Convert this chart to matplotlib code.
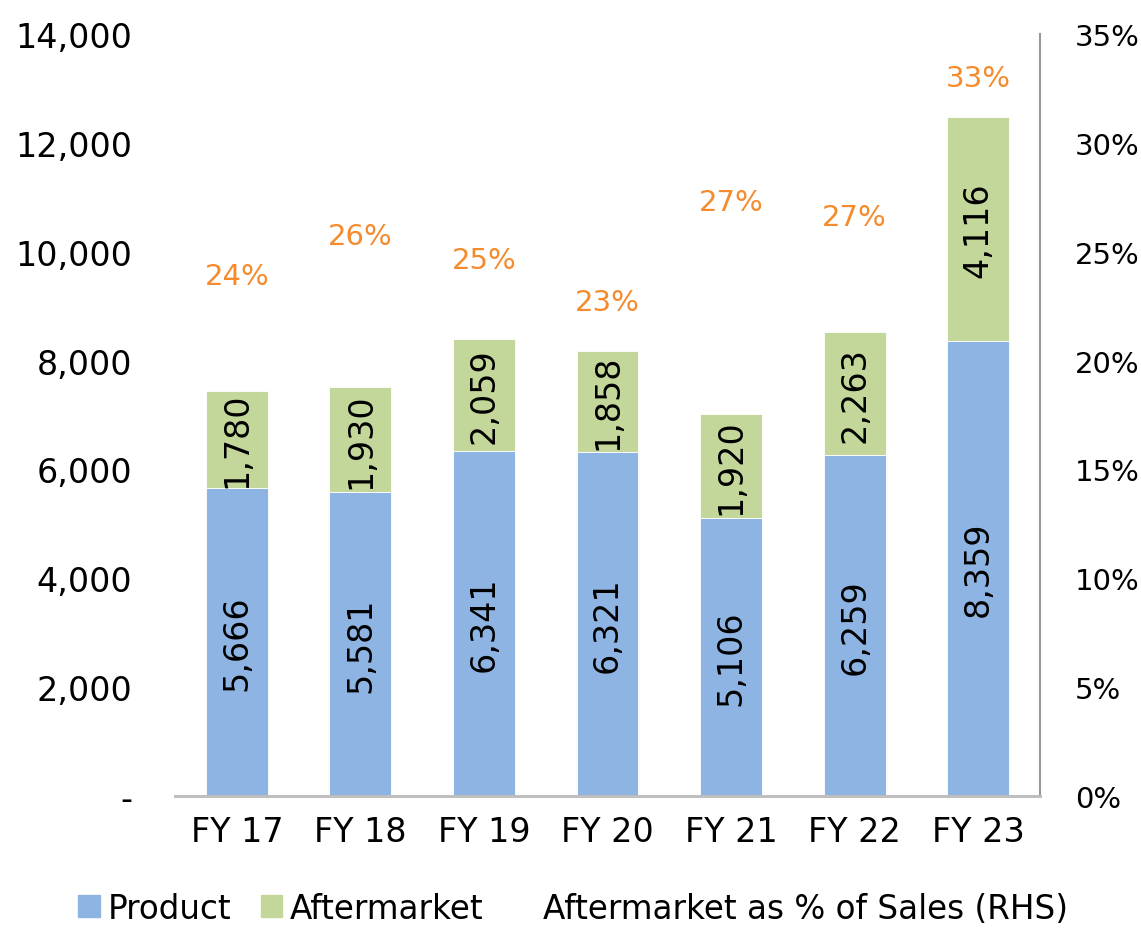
import matplotlib.pyplot as plt
from matplotlib.patches import Patch
from matplotlib.lines import Line2D
from matplotlib.ticker import FuncFormatter

# data
years = ['FY 17', 'FY 18', 'FY 19', 'FY 20', 'FY 21', 'FY 22', 'FY 23']
product = [5666, 5581, 6341, 6321, 5106, 6259, 8359]
aftermarket = [1780, 1930, 2059, 1858, 1920, 2263, 4116]
pct_sales = [23.9, 25.7, 24.6, 22.7, 27.3, 26.6, 33.0]

blue = '#8EB4E3'
green = '#C4D79B'
orange = '#F58B2C'
grey = '#BFBFBF'
fs = 24

plt.rcParams['font.family'] = ['DejaVu Sans']

fig = plt.figure(figsize=(11.41, 9.29), dpi=100)
ax = fig.add_axes([0.1534, 0.1421, 0.7581, 0.8202])
ax2 = ax.twinx()

x = range(len(years))
ax.bar(x, product, width=0.5, color=blue, edgecolor='white', linewidth=0.6)
ax.bar(x, aftermarket, width=0.5, bottom=product, color=green, edgecolor='white', linewidth=0.6)

for i in x:
    ax.text(i, product[i] / 2, f'{product[i]:,}', rotation=90, ha='center', va='center',
            fontsize=fs, color='black')
    ax.text(i, product[i] + aftermarket[i] / 2, f'{aftermarket[i]:,}', rotation=90,
            ha='center', va='center', fontsize=fs, color='black')
    # % labels sit at their value on the right axis (line itself is hidden)
    ax2.text(i, pct_sales[i], f'{round(pct_sales[i])}%', ha='center', va='center',
             fontsize=21, color=orange)

ax.set_xlim(-0.5, 6.5)
ax.set_ylim(0, 14000)
ax.set_yticks(range(0, 14001, 2000))
ax.yaxis.set_major_formatter(FuncFormatter(lambda v, p: '-' if v == 0 else f'{v:,.0f}'))
ax.set_xticks(list(x))
ax.set_xticklabels(years)
ax.tick_params(axis='both', length=0, labelsize=fs, colors='black')
ax.tick_params(axis='x', pad=14)
ax.tick_params(axis='y', pad=31)

ax2.set_ylim(0, 35)
ax2.set_yticks(range(0, 36, 5))
ax2.yaxis.set_major_formatter(FuncFormatter(lambda v, p: f'{v:.0f}%'))
ax2.tick_params(axis='y', length=0, labelsize=21, pad=25)

for a in (ax, ax2):
    a.spines['top'].set_visible(False)
    a.spines['left'].set_visible(False)
    a.spines['right'].set_visible(False)
    a.spines['bottom'].set_color(grey)
    a.spines['bottom'].set_linewidth(2)
ax2.spines['right'].set_visible(True)
ax2.spines['right'].set_color('#999999')
ax2.spines['right'].set_linewidth(1.5)

handles = [Patch(color=blue), Patch(color=green), Line2D([], [], color='none')]
labels = ['Product', 'Aftermarket', 'Aftermarket as % of Sales (RHS)']
fig.legend(handles, labels, loc='lower left', bbox_to_anchor=(0.043, -0.028), ncol=3,
           frameon=False, fontsize=23.5, handlelength=0.65, handleheight=0.65,
           handletextpad=0.25, columnspacing=0.9)

fig.savefig('out.png', dpi=100)
